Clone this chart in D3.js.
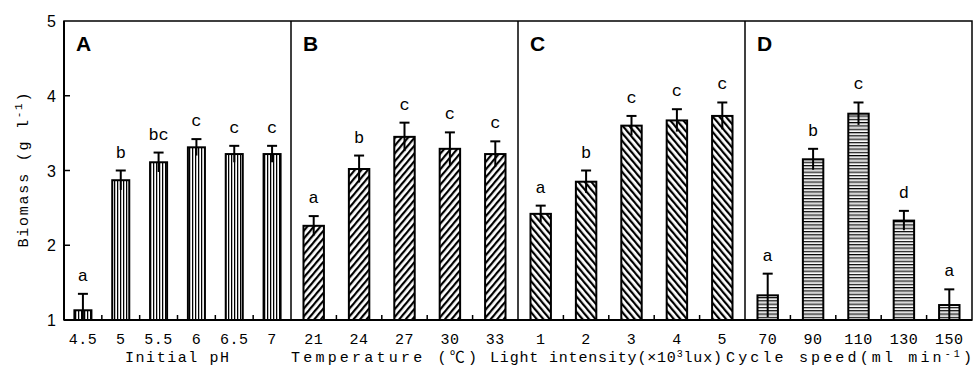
<!DOCTYPE html>
<html><head><meta charset="utf-8">
<script src="https://cdn.jsdelivr.net/npm/d3@7"></script>
<style>html,body{margin:0;padding:0;background:#fff;}svg{display:block;}</style>
</head><body>
<svg id="chart" width="980" height="377"></svg>
<script>
// ---- data ----
const panelIds = ["A", "B", "C", "D"];
const phLabels = ["4.5", "5", "5.5", "6", "6.5", "7"];
const phValues = [1.13, 2.87, 3.11, 3.31, 3.22, 3.22];
const phErrors = [0.22, 0.13, 0.13, 0.11, 0.11, 0.11];
const phLetters = ["a", "b", "bc", "c", "c", "c"];
const tempLabels = ["21", "24", "27", "30", "33"];
const tempValues = [2.26, 3.02, 3.45, 3.29, 3.22];
const tempErrors = [0.13, 0.18, 0.19, 0.22, 0.17];
const tempLetters = ["a", "b", "c", "c", "c"];
const lightLabels = ["1", "2", "3", "4", "5"];
const lightValues = [2.42, 2.85, 3.60, 3.67, 3.73];
const lightErrors = [0.11, 0.15, 0.13, 0.15, 0.18];
const lightLetters = ["a", "b", "c", "c", "c"];
const cycleLabels = ["70", "90", "110", "130", "150"];
const cycleValues = [1.33, 3.15, 3.76, 2.33, 1.20];
const cycleErrors = [0.29, 0.14, 0.15, 0.13, 0.21];
const cycleLetters = ["a", "b", "c", "d", "a"];
const yTicks = [1, 2, 3, 4, 5];

const panels = [
  {id: "A", labels: phLabels, values: phValues, errors: phErrors, letters: phLetters, pattern: "pV"},
  {id: "B", labels: tempLabels, values: tempValues, errors: tempErrors, letters: tempLetters, pattern: "pF"},
  {id: "C", labels: lightLabels, values: lightValues, errors: lightErrors, letters: lightLetters, pattern: "pB"},
  {id: "D", labels: cycleLabels, values: cycleValues, errors: cycleErrors, letters: cycleLetters, pattern: "pH"}
];

// ---- layout ----
const L = 64, R = 972, T = 21, B = 320;
const svg = d3.select("#chart");
const mono = "'Liberation Mono','DejaVu Sans Mono','Noto Sans CJK SC',monospace";

const y = d3.scaleLinear().domain([1, 5]).range([B, T]);
const outer = d3.scaleBand().domain(panelIds).range([L, R]).padding(0);

// patterns
const defs = svg.append("defs");
function addPattern(id, w, h, draw, transform) {
  const p = defs.append("pattern").attr("id", id).attr("patternUnits", "userSpaceOnUse")
    .attr("width", w).attr("height", h);
  if (transform) p.attr("patternTransform", transform);
  p.append("rect").attr("width", w).attr("height", h).attr("fill", "#fff");
  draw(p);
}
addPattern("pV", 3, 10, p => {
  p.append("rect").attr("x", 0).attr("y", 0).attr("width", 1).attr("height", 10).attr("fill", "#000");
  p.append("rect").attr("x", 1).attr("y", 0).attr("width", 1).attr("height", 10).attr("fill", "#bbb");
});
addPattern("pH", 10, 3.3, p => {
  p.append("rect").attr("x", 0).attr("y", 0).attr("width", 10).attr("height", 1.2).attr("fill", "#000");
  p.append("rect").attr("x", 0).attr("y", 1.2).attr("width", 10).attr("height", 0.9).attr("fill", "#aaa");
});
addPattern("pF", 5, 10, p => {
  p.append("rect").attr("x", 0).attr("y", 0).attr("width", 2.2).attr("height", 10).attr("fill", "#000");
}, "rotate(40)");
addPattern("pB", 5, 10, p => {
  p.append("rect").attr("x", 0).attr("y", 0).attr("width", 2.2).attr("height", 10).attr("fill", "#000");
}, "rotate(-40)");

// frame
svg.append("rect").attr("x", L).attr("y", T).attr("width", R - L).attr("height", B - T)
  .attr("fill", "none").attr("stroke", "#000").attr("stroke-width", 1.5);
svg.append("line").attr("x1", L).attr("x2", L).attr("y1", T).attr("y2", B).attr("stroke", "#000").attr("stroke-width", 2);
svg.append("line").attr("x1", L).attr("x2", R).attr("y1", B).attr("y2", B).attr("stroke", "#000").attr("stroke-width", 2);

// panel dividers
panelIds.slice(1).forEach(id => {
  svg.append("line").attr("x1", outer(id)).attr("x2", outer(id)).attr("y1", T).attr("y2", B)
    .attr("stroke", "#000").attr("stroke-width", 1.5);
});

// y axis ticks & labels
svg.append("g").selectAll("line").data(yTicks.slice(1, -1)).join("line")
  .attr("x1", L).attr("x2", L + 6).attr("y1", d => y(d)).attr("y2", d => y(d))
  .attr("stroke", "#000").attr("stroke-width", 1.5);
svg.append("g").selectAll("text").data(yTicks).join("text")
  .attr("x", 56).attr("y", d => y(d) + 6).attr("text-anchor", "end")
  .attr("font-family", "'Liberation Sans',Arial,sans-serif").attr("font-size", 16)
  .text(d => d);

// y title
const yt = svg.append("text").attr("transform", "translate(28,170) rotate(-90)")
  .attr("text-anchor", "middle").attr("font-family", mono).attr("font-size", 15)
  .attr("textLength", 155).attr("lengthAdjust", "spacing");
yt.append("tspan").text("Biomass (g l");
yt.append("tspan").attr("dy", -6).attr("font-size", 11).text("-1");
yt.append("tspan").attr("dy", 6).text(")");

panels.forEach(pn => {
  const x0 = outer(pn.id), w = outer.bandwidth();
  const x = d3.scaleBand().domain(pn.labels).range([x0, x0 + w]).paddingInner(0.55).paddingOuter(0.275);
  const g = svg.append("g");
  const rows = pn.labels.map((lab, i) => ({lab, v: pn.values[i], e: pn.errors[i], l: pn.letters[i]}));

  // inner ticks (between bars)
  g.selectAll("line.tk").data(pn.labels.slice(1)).join("line").attr("class", "tk")
    .attr("x1", d => x(d) - x.step() * x.paddingOuter()).attr("x2", d => x(d) - x.step() * x.paddingOuter())
    .attr("y1", B).attr("y2", B - 5).attr("stroke", "#000").attr("stroke-width", 1.5);

  // bars
  g.selectAll("rect.bar").data(rows).join("rect").attr("class", "bar")
    .attr("x", d => x(d.lab)).attr("width", x.bandwidth())
    .attr("y", d => y(d.v)).attr("height", d => B - y(d.v))
    .attr("fill", `url(#${pn.pattern})`).attr("stroke", "#000").attr("stroke-width", 2);

  // error bars
  const cx = d => x(d.lab) + x.bandwidth() / 2;
  g.selectAll("line.eb").data(rows).join("line").attr("class", "eb")
    .attr("x1", cx).attr("x2", cx).attr("y1", d => y(d.v + d.e)).attr("y2", d => Math.min(B, y(d.v - d.e)))
    .attr("stroke", "#000").attr("stroke-width", 2);
  g.selectAll("line.cap").data(rows).join("line").attr("class", "cap")
    .attr("x1", d => cx(d) - 5).attr("x2", d => cx(d) + 5)
    .attr("y1", d => y(d.v + d.e)).attr("y2", d => y(d.v + d.e))
    .attr("stroke", "#000").attr("stroke-width", 2);

  // significance letters
  g.selectAll("text.sig").data(rows).join("text").attr("class", "sig")
    .attr("x", cx).attr("y", d => y(d.v + d.e) - 13).attr("text-anchor", "middle")
    .attr("font-family", mono).attr("font-size", 17).text(d => d.l);

  // tick labels
  g.selectAll("text.tl").data(rows).join("text").attr("class", "tl")
    .attr("x", cx).attr("y", 344).attr("text-anchor", "middle")
    .attr("font-family", mono).attr("font-size", 15).attr("letter-spacing", 0.5).text(d => d.lab);

  // panel letter
  g.append("text").attr("x", x0 + 12).attr("y", 51)
    .attr("font-family", "'Liberation Sans',Arial,sans-serif").attr("font-weight", "bold")
    .attr("font-size", 21).text(pn.id);
});

// x titles
function title(cx, len, parts) {
  const t = svg.append("text").attr("x", cx).attr("y", 362).attr("text-anchor", "middle")
    .attr("font-family", mono).attr("font-size", 15)
    .attr("textLength", len).attr("lengthAdjust", "spacing");
  parts.forEach(p => {
    const s = t.append("tspan").text(p.t);
    if (p.sup) s.attr("dy", -5).attr("font-size", 10);
    if (p.down) s.attr("dy", 5);
  });
}
title(177, 104, [{t: "Initial pH"}]);
title(384, 186, [{t: "Temperature (℃)"}]);
title(606, 232, [{t: "Light intensity(×10"}, {t: "3", sup: true}, {t: "lux)", down: true}]);
title(849, 246, [{t: "Cycle speed(ml min"}, {t: "-1", sup: true}, {t: ")", down: true}]);
</script>
</body></html>
